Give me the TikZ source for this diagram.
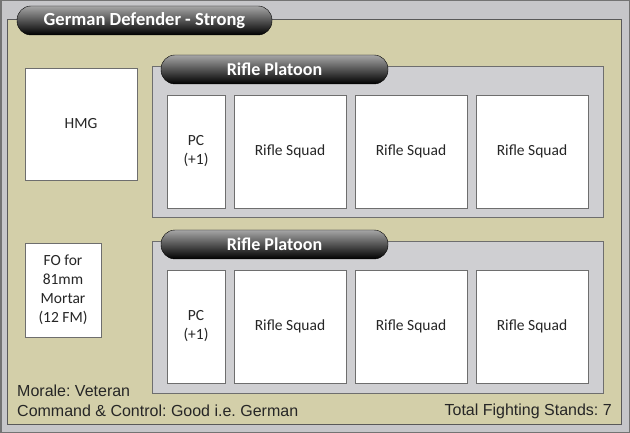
\documentclass[tikz,border=0pt]{standalone}
\usepackage{fontspec}
\setmainfont{Carlito}
\newfontfamily\arialfont{Liberation Sans}
\usepackage{tikz}
\usepackage{xcolor}
\usetikzlibrary{shapes,positioning,calc}
\frenchspacing

\definecolor{framegray}{HTML}{C6C6C9}
\definecolor{khaki}{HTML}{D3CFA9}
\definecolor{platoongray}{HTML}{CFCFD2}
\definecolor{edgegray}{HTML}{6E6E6E}

\tikzset{
  unit/.style={draw=edgegray, fill=white, align=center, inner sep=0pt,
    font=\fontsize{15.5}{19}\selectfont, text=black!85, line width=0.8pt},
  platoon/.style={draw=edgegray, fill=platoongray, line width=1pt, inner sep=0pt},
  pill/.style={rounded corners=14pt, top color=black!35, bottom color=black,
    draw=black, text=white, inner sep=0pt, minimum height=29pt,
    font=\bfseries\fontsize{18.5}{20}\selectfont},
  note/.style={font=\arialfont\fontsize{16}{18}\selectfont, text=black!85, inner sep=0pt}
}

\begin{document}
\begin{tikzpicture}[x=1pt, y=-1pt]
    % Background
    \useasboundingbox (0,0) rectangle (630,433);
    \draw[fill=framegray, draw=black!55, line width=1.5pt] (0.75,0.75) rectangle (629.25,432.25);
    \draw[fill=khaki, draw=black!65, line width=1pt] (7,20) rectangle (621,424);

    % Title
    \node[pill, minimum width=255pt] (title) at (144.5,20.5) {German Defender - Strong};

    % Support units
    \node[unit, minimum width=112pt, minimum height=112pt] (hmg) at (81,124) {HMG};
    \node[unit, minimum width=76pt, minimum height=94pt] (fo) at (63,290) {FO for\\81mm\\Mortar\\(12 FM)};

    % Platoons
    \foreach \p/\y in {1/142.5, 2/317.5} {
        \node[platoon, minimum width=451pt, minimum height=151pt] (plt\p) at (377.5,\y) {};
        \node[pill, minimum width=227pt, font=\bfseries\fontsize{18}{20}\selectfont]
            (pltname\p) at (274.5,\y-73) {Rifle Platoon};
        \node[unit, minimum width=58pt, minimum height=113pt] (pc\p) at (196,\y+9) {PC\\(+1)};
        \foreach \s/\x in {1/290, 2/411, 3/532}
            \node[unit, minimum width=112pt, minimum height=113pt] (squad\p\s) at (\x,\y+9) {Rifle Squad};
    }

    % Notes
    \node[note, anchor=west] (morale) at (17,391) {Morale: Veteran};
    \node[note, anchor=west] (cc) at (17,411) {Command \& Control: Good i.e. German};
    \node[note, anchor=east] (total) at (612,411) {Total Fighting Stands: 7};
\end{tikzpicture}
\end{document}
